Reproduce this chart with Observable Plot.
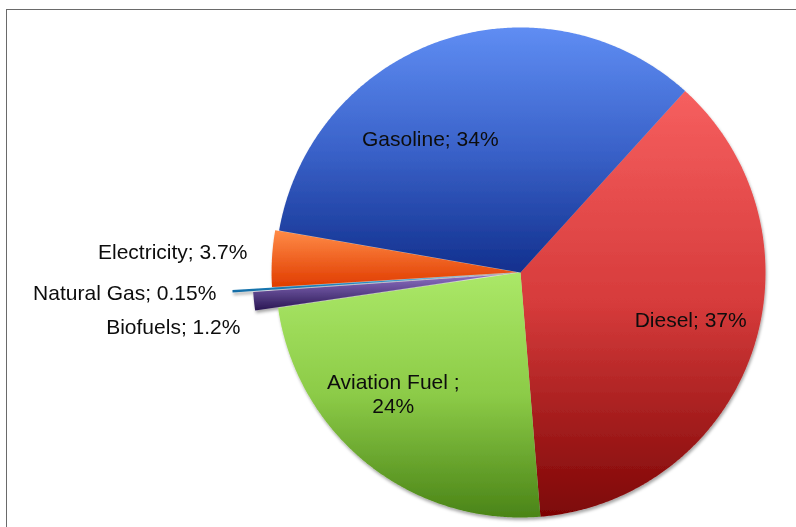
<!DOCTYPE html>
<html><head><meta charset="utf-8">
<script src="https://cdn.jsdelivr.net/npm/d3@7"></script>
<script src="https://cdn.jsdelivr.net/npm/@observablehq/plot@0.6"></script>
<style>
html,body{margin:0;padding:0;background:#fff;}
#wrap{position:relative;width:796px;height:527px;overflow:hidden;}
#frame{position:absolute;left:6px;top:9px;width:820px;height:560px;border-left:1.5px solid #6a6a6a;border-top:1.5px solid #6a6a6a;pointer-events:none;}
</style></head><body><div id="wrap"><div id="frame"></div></div>
<script>
// ---- data ----
const categories = ["Diesel", "Aviation Fuel", "Biofuels", "Natural Gas", "Electricity", "Gasoline"];
const shares = [37, 24, 1.2, 0.15, 3.7, 34];
const labelTexts = ["Diesel; 37%", "Aviation Fuel ;\n24%", "Biofuels; 1.2%", "Natural Gas; 0.15%", "Electricity; 3.7%", "Gasoline; 34%"];

// ---- styles ----
const gradientStops = [
  [["0", "#f65f5f"], ["0.5", "#d63b3b"], ["1", "#7c0505"]],
  [["0", "#abe868"], ["0.5", "#8ccb47"], ["1", "#4a8417"]],
  [["0", "#8d70c4"], ["1", "#2a1753"]],
  [["0", "#33a2dc"], ["1", "#126aa3"]],
  [["0", "#ff8b47"], ["1", "#e03c00"]],
  [["0", "#5f8df3"], ["0.5", "#3a62c9"], ["1", "#12308e"]]
];
// ---- layout ----
const W = 796, H = 527, CX = 520, CY = 272, R = 245;
const startDeg = 42.2;
const explodeFrac = [0, 0, 0.094, 0.178, 0.016, 0];
// label placement in polar form relative to slice mid-angle: [angle offset deg, radius fraction, anchor]
const labelPlace = [[-3.5, 0.72, "middle"], [8, 0.716, "middle"], [-4.7, 1.164, "end"], [0, 1.244, "end"], [1.2, 1.118, "end"], [-15, 0.659, "middle"]];

const data = categories.map((c, i) => ({name: c, share: shares[i], label: labelTexts[i], i}));
const arcs = d3.pie().sort(null).value(d => d.share)
  .startAngle(startDeg * Math.PI / 180).endAngle(startDeg * Math.PI / 180 + 2 * Math.PI)(data);

const slices = arcs.map(a => {
  const i = a.data.i;
  const mid = (a.startAngle + a.endAngle) / 2;
  const e = explodeFrac[i];
  const ox = e * Math.sin(mid), oy = e * Math.cos(mid);
  const pts = [{x: ox, y: oy}];
  const n = Math.max(2, Math.ceil((a.endAngle - a.startAngle) / (0.4 * Math.PI / 180)));
  for (let k = 0; k <= n; k++) {
    const t = a.startAngle + (a.endAngle - a.startAngle) * k / n;
    pts.push({x: ox + Math.sin(t), y: oy + Math.cos(t)});
  }
  pts.push({x: ox, y: oy});
  return {i, pts};
});

const labelData = arcs.map(a => {
  const i = a.data.i;
  const mid = (a.startAngle + a.endAngle) / 2 + labelPlace[i][0] * Math.PI / 180;
  const r = labelPlace[i][1];
  return {x: r * Math.sin(mid), y: r * Math.cos(mid), text: a.data.label, anchor: labelPlace[i][2]};
});

const marks = slices.map(s => Plot.line(s.pts, {x: "x", y: "y", fill: `url(#grad${s.i})`, stroke: "none"}));
for (const anchor of ["middle", "end"]) {
  marks.push(Plot.text(labelData.filter(d => d.anchor === anchor), {
    x: "x", y: "y", text: "text", textAnchor: anchor, fontSize: 21, fill: "#0d0d0d", lineHeight: 1.14
  }));
}

const svg = Plot.plot({
  width: W, height: H, margin: 0,
  style: {fontFamily: "'Liberation Sans', Arial, sans-serif", background: "transparent", overflow: "visible"},
  x: {domain: [-CX / R, (W - CX) / R], range: [0, W], axis: null},
  y: {domain: [-(H - CY) / R, CY / R], range: [H, 0], axis: null},
  marks
});

const defs = d3.select(svg).insert("defs", ":first-child");
gradientStops.forEach((stops, i) => {
  const g = defs.append("linearGradient").attr("id", `grad${i}`).attr("x1", 0).attr("y1", 0).attr("x2", 0).attr("y2", 1);
  stops.forEach(([o, c]) => g.append("stop").attr("offset", o).attr("stop-color", c));
});
const f = defs.append("filter").attr("id", "shadow").attr("x", "-10%").attr("y", "-10%").attr("width", "120%").attr("height", "120%");
f.append("feDropShadow").attr("dx", 1).attr("dy", 2.5).attr("stdDeviation", 1.8).attr("flood-color", "#000").attr("flood-opacity", 0.35);

const pieGroup = d3.select(svg).insert("g", "g").attr("filter", "url(#shadow)");
d3.select(svg).selectAll("g[aria-label='line']").each(function() { pieGroup.node().appendChild(this); });

document.getElementById("wrap").prepend(svg);
svg.style.position = "absolute"; svg.style.left = "0"; svg.style.top = "0";
</script>
</body></html>
